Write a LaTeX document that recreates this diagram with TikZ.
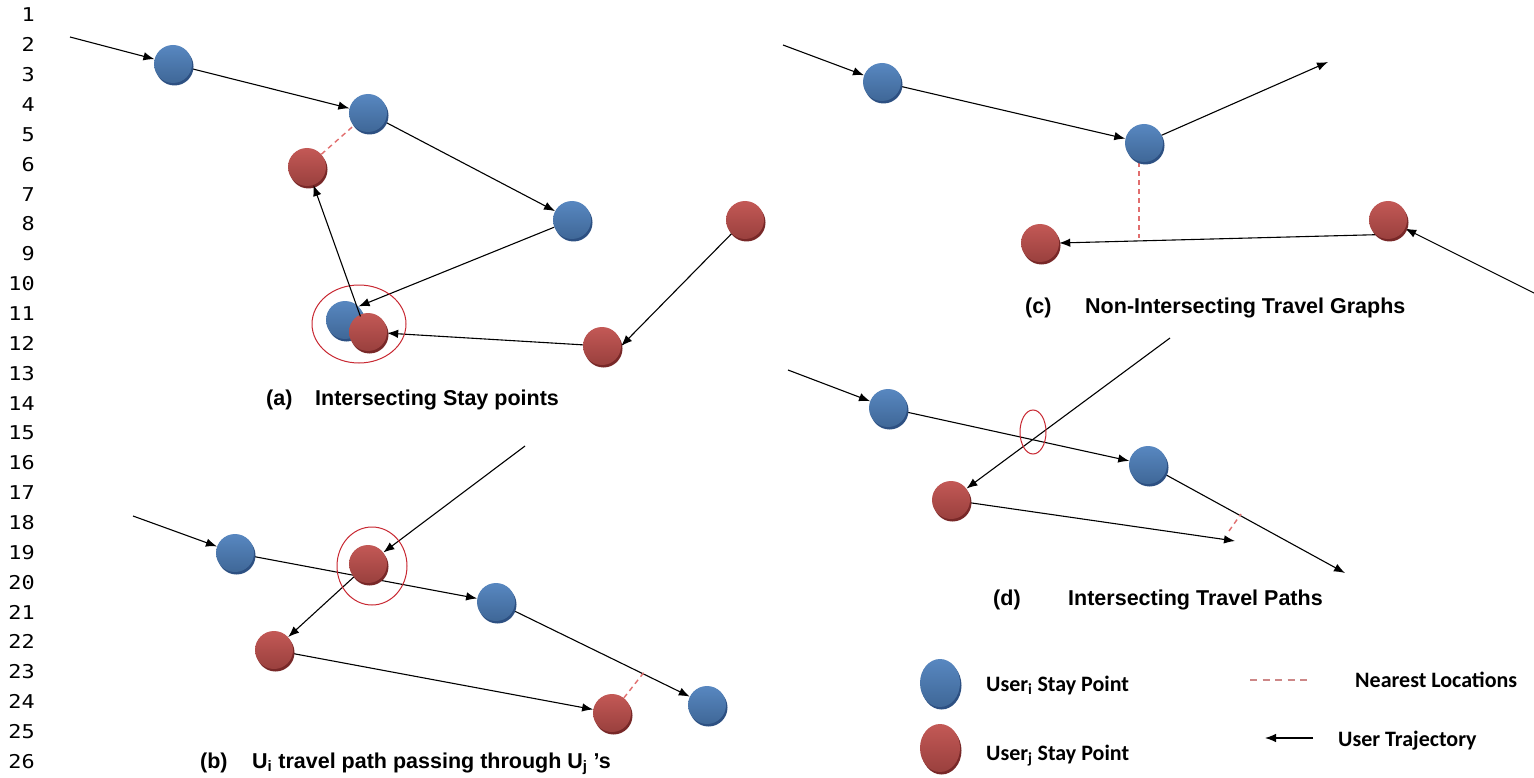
\documentclass[tikz,border=0pt]{standalone}
\usepackage{fontspec}
\setmainfont{Liberation Sans}
\newfontfamily\legfont{Carlito}
\newfontfamily\numfont{DejaVu Sans Mono}
\usetikzlibrary{arrows.meta,shadows,shapes.geometric}
\pgfdeclarelayer{paper}
\pgfdeclarelayer{bg}
\pgfsetlayers{paper,bg,main}
\definecolor{blueA}{RGB}{79,129,189}
\definecolor{blueD}{RGB}{45,80,130}
\definecolor{redA}{RGB}{192,80,77}
\definecolor{redD}{RGB}{120,40,40}
\definecolor{ringred}{RGB}{200,40,50}
\definecolor{dashred}{RGB}{225,110,110}
\definecolor{legdash}{RGB}{205,135,135}
\begin{document}
\begin{tikzpicture}[x=1pt,y=-1pt,
  bpt/.style={circle, minimum size=38pt, inner sep=0pt, draw=none,
    top color=blueA!95!white, middle color=blueA!70!white, bottom color=blueA!80!black,
    drop shadow={shadow xshift=1.5pt, shadow yshift=-2.5pt, fill=blueD, opacity=1}},
  rpt/.style={circle, minimum size=38pt, inner sep=0pt, draw=none,
    top color=redA!95!white, middle color=redA!70!white, bottom color=redA!80!black,
    drop shadow={shadow xshift=1.5pt, shadow yshift=-2.5pt, fill=redD, opacity=1}},
  traj/.style={draw=black, line width=1.1pt, -{Latex[length=11pt,width=8.5pt]}},
  nearline/.style={draw=dashred, line width=1.4pt, dash pattern=on 5pt off 4pt},
  ringsh/.style={ellipse, draw=ringred, line width=1pt, inner sep=0pt, fill=none},
  captxt/.style={inner sep=0pt, font=\fontsize{21.5}{25}\selectfont\bfseries},
  legtxt/.style={inner sep=0pt, font=\legfont\fontsize{22}{26}\selectfont\bfseries},
  lnum/.style={inner sep=0pt, font=\numfont\fontsize{19}{22}\selectfont}]
\useasboundingbox (0,0) rectangle (1534,778);
\begin{pgfonlayer}{paper}
\fill[white] (0,0) rectangle (1534,778);
\end{pgfonlayer}
% line numbers
\foreach \n in {1,...,26}{
  \node[lnum, anchor=base east] (ln\n) at (35,{22+(\n-1)*29.85}) {\scalebox{1.15}[1]{\n}};
}
% ---------------- panel (a)
\coordinate (a0) at (70,37);
\node[bpt] (A1) at (173,64) {};
\node[bpt] (A2) at (368,113) {};
\node[rpt] (R1) at (307,167) {};
\node[bpt] (A3) at (572,220) {};
\node[bpt] (A4) at (345,320) {};
\node[rpt] (R2) at (368,332) {};
\node[rpt] (R3) at (602,346) {};
\node[rpt] (R4) at (745,220) {};
\node[ringsh, minimum width=94pt, minimum height=78pt] (E1) at (359,324) {};
\begin{pgfonlayer}{bg}
\draw[traj] (a0) -- (A1);
\draw[traj] (A1) -- (A2);
\draw[traj] (A2) -- (A3);
\draw[traj] (A3) -- (A4.north east);
\draw[traj] (R3) -- (R2);
\draw[traj] (R4) -- (R3.east);
\draw[nearline] (R1) -- (A2);
\end{pgfonlayer}
\draw[traj] (R2.north west) ++(6,-2) -- (R1);
\node[captxt, anchor=base west] (capa) at (266,405) {(a)};
\node[captxt, anchor=base west] (capat) at (315,405) {Intersecting Stay points};
% ---------------- panel (b)
\coordinate (b0) at (133,516);
\coordinate (b1) at (525,446);
\coordinate (bd) at (645,671);
\node[bpt] (B1) at (235,553) {};
\node[rpt] (RB1) at (368,564) {};
\node[bpt] (B2) at (496,602) {};
\node[rpt] (RB2) at (274,650) {};
\node[rpt] (RB3) at (612,713) {};
\node[bpt] (B3) at (707,705) {};
\node[ringsh, minimum width=70pt, minimum height=78pt] (E2) at (372,566) {};
\begin{pgfonlayer}{bg}
\draw[traj] (b0) -- (B1);
\draw[traj] (B1) -- (B2);
\draw[traj] (b1) -- (RB1);
\draw[traj] (RB1) -- (RB2);
\draw[traj] (RB2) -- (RB3);
\draw[traj] (B2) -- (B3);
\draw[nearline] (RB3) -- (bd);
\end{pgfonlayer}
\node[captxt, anchor=base west] (capb) at (200,768) {(b)};
\node[captxt, anchor=base west] (capbt) at (252,768) {U\textsubscript{i} travel path passing through U\textsubscript{j} 's};
% ---------------- panel (c)
\coordinate (c0) at (783,45);
\coordinate (c1) at (1328,62);
\coordinate (c2) at (1536,294);
\coordinate (cd) at (1139,238);
\node[bpt] (C1) at (882,82) {};
\node[bpt] (C2) at (1144,143) {};
\node[rpt] (RC1) at (1040,243) {};
\node[rpt] (RC2) at (1388,220) {};
\begin{pgfonlayer}{bg}
\draw[traj] (c0) -- (C1);
\draw[traj] (C1) -- (C2);
\draw[traj] (C2) -- (c1);
\draw[traj] (RC2.230) -- (RC1.east);
\draw[traj] (c2) -- (RC2);
\draw[nearline] (cd |- C2.south) -- (cd);
\end{pgfonlayer}
\node[captxt, anchor=base west] (capc) at (1025,313) {(c)};
\node[captxt, anchor=base west] (capct) at (1085,313) {Non-Intersecting Travel Graphs};
% ---------------- panel (d)
\coordinate (d0) at (788,370);
\coordinate (d1) at (1345,573);
\coordinate (d2) at (1170,338);
\coordinate (d3) at (1235,541);
\coordinate (dn1) at (1229,531);
\coordinate (dn2) at (1241,514);
\node[bpt] (D1) at (888,408) {};
\node[bpt] (D2) at (1148,465) {};
\node[rpt] (RD1) at (951,500) {};
\node[ringsh, minimum width=26pt, minimum height=44pt] (E3) at (1033,432) {};
\begin{pgfonlayer}{bg}
\draw[traj] (d0) -- (D1);
\draw[traj] (D1) -- (D2);
\draw[traj] (D2) -- (d1);
\draw[traj] (d2) -- (RD1);
\draw[traj] (RD1) -- (d3);
\draw[nearline] (dn1) -- (dn2);
\end{pgfonlayer}
\node[captxt, anchor=base west] (capd) at (993,605) {(d)};
\node[captxt, anchor=base west] (capdt) at (1068,605) {Intersecting Travel Paths};
% ---------------- legend
\node[bpt, ellipse, minimum width=40pt, minimum height=48pt] (LB) at (940,683) {};
\node[rpt, ellipse, minimum width=40pt, minimum height=48pt] (LR) at (940,748) {};
\node[legtxt, anchor=base west] (LBt) at (986,691) {User\textsubscript{i} Stay Point};
\node[legtxt, anchor=base west] (LRt) at (986,760) {User\textsubscript{j} Stay Point};
\coordinate (ln1a) at (1250,680);
\coordinate (ln1b) at (1312,680);
\draw[draw=legdash, line width=1.4pt, dash pattern=on 7pt off 5.5pt] (ln1a) -- (ln1b);
\node[legtxt, anchor=base west] (LNt) at (1355,687) {Nearest Locations};
\coordinate (lt1a) at (1313,738);
\coordinate (lt1b) at (1265,738);
\draw[traj] (lt1a) -- (lt1b);
\node[legtxt, anchor=base west] (LTt) at (1338,746) {User Trajectory};
\end{tikzpicture}
\end{document}
